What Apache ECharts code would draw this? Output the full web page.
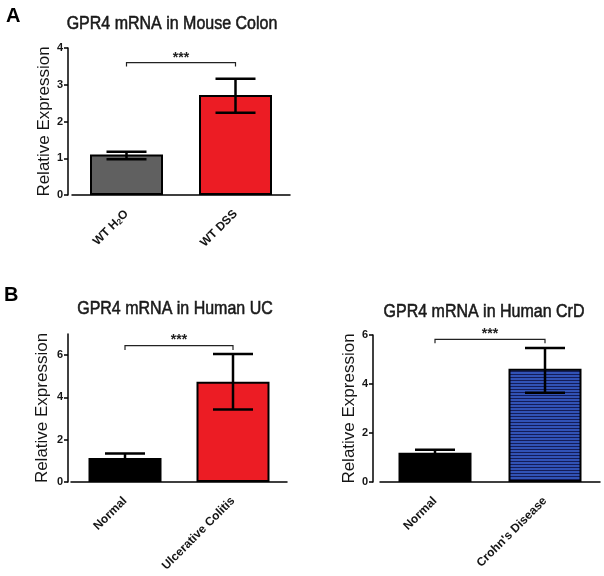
<!DOCTYPE html>
<html><head><meta charset="utf-8">
<script src="https://cdn.jsdelivr.net/npm/echarts@6/dist/echarts.min.js"></script>
<style>html,body{margin:0;padding:0;background:#fff}#c{width:604px;height:576px}</style>
</head><body><div id="c"></div>
<script>
// ---- data ----
const catsA = ['WT H2O', 'WT DSS'];
const meanA = [1.10, 2.72];
const errLoA = [0.97, 2.24];
const errHiA = [1.18, 3.16];
const sigA = [3.60, 3.50];

const catsUC = ['Normal', 'Ulcerative Colitis'];
const meanUC = [1.14, 4.74];
const errLoUC = [0.95, 3.43];
const errHiUC = [1.35, 6.05];
const sigUC = [6.45, 6.24];

const catsCrD = ['Normal', "Crohn's Disease"];
const meanCrD = [1.19, 4.62];
const errLoCrD = [1.06, 3.64];
const errHiCrD = [1.32, 5.47];
const sigCrD = [5.82, 5.66];

const yTicksA = [0, 1, 2, 3, 4];
const yTicksUC = [0, 2, 4, 6];
const yTicksCrD = [0, 2, 4, 6];

const titles = ['GPR4 mRNA in Mouse Colon', 'GPR4 mRNA in Human UC', 'GPR4 mRNA in Human CrD'];
const yName = 'Relative Expression';
const sigText = '***';

// ---- styles ----
const FONT = '"Liberation Sans", Arial, sans-serif';
const stripe = document.createElement('canvas');
stripe.width = 4; stripe.height = 3;
(function(){
  const g = stripe.getContext('2d');
  g.fillStyle = '#3152b6'; g.fillRect(0, 0, 4, 3);
  g.fillStyle = '#141c58'; g.fillRect(0, 2, 4, 1);
})();
const colorsA = ['#606060', '#ec1c24'];
const colorsUC = ['#000000', '#ec1c24'];
const colorsCrD = ['#000000', {image: stripe, repeat: 'repeat'}];

const chart = echarts.init(document.getElementById('c'), null, {renderer: 'canvas'});

function errRender(params, api) {
  const x = api.value(0), lo = api.value(1), hi = api.value(2);
  const pLo = api.coord([x, lo]), pHi = api.coord([x, hi]);
  const hw = 20;
  const st = {stroke: '#000', lineWidth: 2.5};
  return {type: 'group', children: [
    {type: 'line', shape: {x1: pLo[0], y1: pLo[1], x2: pHi[0], y2: pHi[1]}, style: st},
    {type: 'line', shape: {x1: pHi[0] - hw, y1: pHi[1], x2: pHi[0] + hw, y2: pHi[1]}, style: st},
    {type: 'line', shape: {x1: pLo[0] - hw, y1: pLo[1], x2: pLo[0] + hw, y2: pLo[1]}, style: st}
  ]};
}
function sigRender(params, api) {
  const a = api.value(0), b = api.value(1), y = api.value(2), yd = api.value(3);
  const p0 = api.coord([a, yd]), p1 = api.coord([a, y]), p2 = api.coord([b, y]), p3 = api.coord([b, yd]);
  return {type: 'group', children: [
    {type: 'polyline', shape: {points: [p0, p1, p2, p3]}, style: {stroke: '#222', lineWidth: 1.2, fill: null}},
    {type: 'text', x: (p1[0] + p2[0]) / 2, y: p1[1] + 2,
     style: {text: sigText, align: 'center', verticalAlign: 'bottom', font: 'bold 14px ' + FONT, fill: '#222'}}
  ]};
}

const grids = [
  {left: 72, top: 48, width: 218, height: 147},
  {left: 71, top: 334, width: 216, height: 148},
  {left: 380, top: 335, width: 220, height: 147}
];
const yCfg = [
  {max: 4, interval: 1, ticks: yTicksA, offset: 4, gap: 14},
  {max: 7, interval: 1, ticks: yTicksUC, offset: 3, gap: 17},
  {max: 6, interval: 2, ticks: yTicksCrD, offset: 7, gap: 8}
];
const cats = [catsA, catsUC, catsCrD];
const means = [meanA, meanUC, meanCrD];
const los = [errLoA, errLoUC, errLoCrD];
const his = [errHiA, errHiUC, errHiCrD];
const sigs = [sigA, sigUC, sigCrD];
const cols = [colorsA, colorsUC, colorsCrD];

const axisLine = {show: true, lineStyle: {color: '#000', width: 1.5}};
const xAxes = cats.map((c, i) => ({
  type: 'category', gridIndex: i, data: c,
  axisLine: axisLine,
  axisTick: {alignWithLabel: true, length: 5, lineStyle: {color: '#000', width: 1.5}},
  axisLabel: {rotate: 45, interval: 0, margin: 17, fontSize: 12, fontWeight: 'bold', color: '#151515', fontFamily: FONT,
    formatter: v => v.replace('H2O', 'H{sub|2}O'),
    rich: {sub: {fontSize: 8, fontWeight: 'bold', color: '#151515', fontFamily: FONT, verticalAlign: 'bottom', padding: [5, 0, 0, 0]}}}
}));
const yAxes = yCfg.map((y, i) => ({
  type: 'value', gridIndex: i, min: 0, max: y.max, interval: y.interval, offset: y.offset,
  splitLine: {show: false},
  axisLine: axisLine,
  axisTick: {show: true, length: 4, customValues: y.ticks, lineStyle: {color: '#000', width: 1.5}},
  axisLabel: {customValues: y.ticks, margin: 5, fontSize: 11, fontWeight: 'bold', color: '#151515', fontFamily: FONT},
  name: yName, nameLocation: 'middle', nameGap: y.gap,
  nameTextStyle: {fontSize: 17, color: '#151515', fontFamily: FONT}
}));

const series = [];
for (let i = 0; i < 3; i++) {
  series.push({
    type: 'bar', xAxisIndex: i, yAxisIndex: i, barWidth: 73, z: 2,
    data: means[i].map((v, k) => ({value: v, itemStyle: {color: cols[i][k]}})),
    itemStyle: {borderColor: '#000', borderWidth: 2}
  });
  series.push({
    type: 'custom', xAxisIndex: i, yAxisIndex: i, z: 5, renderItem: errRender,
    data: los[i].map((l, k) => [k, l, his[i][k]])
  });
  series.push({
    type: 'custom', xAxisIndex: i, yAxisIndex: i, z: 5, renderItem: sigRender,
    data: [[0, 1, sigs[i][0], sigs[i][1]]]
  });
}

const tFont = '16px ' + FONT;
function titleText(x, y, t) {
  return {type: 'text', x: x, y: y, scaleY: 1.12, style: {text: t, font: tFont, fill: '#1a1a1a', stroke: '#1a1a1a', lineWidth: 0.5, align: 'center', verticalAlign: 'middle'}};
}
chart.setOption({
  animation: false,
  backgroundColor: '#fff',
  grid: grids,
  xAxis: xAxes,
  yAxis: yAxes,
  series: series,
  graphic: [
    {type: 'text', x: 6, y: 6, style: {text: 'A', font: 'bold 20px ' + FONT, fill: '#000'}},
    {type: 'text', x: 4, y: 285, style: {text: 'B', font: 'bold 20px ' + FONT, fill: '#000'}},
    titleText(172, 24, titles[0]),
    titleText(175, 309, titles[1]),
    titleText(484, 312, titles[2])
  ]
});
</script></body></html>
